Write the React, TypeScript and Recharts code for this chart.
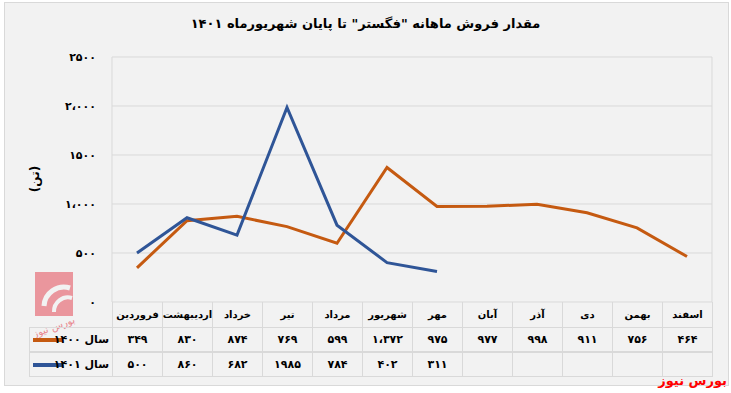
import React from 'react';
import { LineChart, Line, XAxis, YAxis, CartesianGrid } from 'recharts';

const months = ['فروردین', 'اردیبهشت', 'خرداد', 'تیر', 'مرداد', 'شهریور', 'مهر', 'آبان', 'آذر', 'دی', 'بهمن', 'اسفند'];
const sales1400 = [349, 830, 874, 769, 599, 1372, 975, 977, 998, 911, 756, 464];
const sales1401 = [500, 860, 682, 1985, 784, 402, 311];
const yTicks = [0, 500, 1000, 1500, 2000, 2500];
const yTickLabels = ['۰', '۵۰۰', '۱،۰۰۰', '۱۵۰۰', '۲،۰۰۰', '۲۵۰۰'];
const seriesNames = ['سال ۱۴۰۰', 'سال ۱۴۰۱'];
const title = 'مقدار فروش ماهانه "فگستر" تا پایان شهریورماه ۱۴۰۱';

const ORANGE = '#C55A11';
const BLUE = '#2F5597';
const GRID = '#d9d9d9';
const FONT = '"DejaVu Sans", sans-serif';

const faDigits = '۰۱۲۳۴۵۶۷۸۹';
// the source drops the separator on numbers containing a 5 (e.g. ۱۹۸۵, ۱۵۰۰)
const toFa = (n: number) => {
  const s = n.toString();
  const grouped = s.includes('5') ? s : s.replace(/\B(?=(\d{3})+(?!\d))/g, '،');
  return grouped.replace(/\d/g, (d) => faDigits[Number(d)]);
};

const data = months.map((m, i) => ({
  x: i + 0.5,
  month: m,
  s1400: sales1400[i],
  s1401: i < sales1401.length ? sales1401[i] : null,
}));

const cellStyle: React.CSSProperties = {
  position: 'absolute',
  height: 25,
  boxSizing: 'border-box',
  display: 'flex',
  alignItems: 'center',
  justifyContent: 'center',
  fontSize: 11,
  fontWeight: 'bold',
  color: '#000',
  direction: 'rtl',
  whiteSpace: 'nowrap',
};

export default function App() {
  const rows = [sales1400, sales1401];
  const colors = [ORANGE, BLUE];
  return (
    <div style={{ position: 'absolute', left: 0, top: 0, width: 731, height: 393, background: '#fff', fontFamily: FONT }}>
      <div
        style={{
          position: 'absolute',
          left: 4,
          top: 2,
          width: 725,
          height: 384,
          background: '#f2f2f2',
          border: `1px solid ${GRID}`,
          boxSizing: 'border-box',
        }}
      />
      <div
        dir="rtl"
        style={{
          position: 'absolute',
          left: 0,
          top: 16,
          width: 731,
          textAlign: 'center',
          fontSize: 13,
          fontWeight: 'bold',
        }}
      >
        {title}
      </div>
      <div
        dir="rtl"
        style={{
          position: 'absolute',
          left: 15,
          top: 172,
          width: 40,
          textAlign: 'center',
          fontSize: 12,
          fontWeight: 'bold',
          transform: 'rotate(-90deg)',
        }}
      >
        (تن)
      </div>
      {/* watermark */}
      <svg style={{ position: 'absolute', left: 30, top: 268 }} width={50} height={70}>
        <rect x={5} y={4} width={38} height={44} fill="#e9868e" opacity={0.85} />
        <path d="M40 20 A20 20 0 0 0 14 38" stroke="#f2f2f2" strokeWidth={5} fill="none" />
        <path d="M42 30 A14 14 0 0 0 24 44" stroke="#f2f2f2" strokeWidth={4} fill="none" />
        <text x={25} y={62} fontSize={10} fill="#e9868e" textAnchor="middle" fontFamily={FONT} transform="rotate(-20 25 62)">
          بورس نیوز
        </text>
      </svg>
      <div style={{ position: 'absolute', left: 0, top: 0 }}>
        <LineChart width={731} height={393} data={data} margin={{ top: 57, right: 19, left: 52, bottom: 91 }}>
          <CartesianGrid stroke={GRID} strokeWidth={1} />
          <XAxis
            dataKey="x"
            type="number"
            domain={[0, 12]}
            ticks={[0, 1, 2, 3, 4, 5, 6, 7, 8, 9, 10, 11, 12]}
            tick={false}
            tickLine={false}
            axisLine={false}
            height={0}
          />
          <YAxis
            type="number"
            domain={[0, 2500]}
            ticks={yTicks}
            width={60}
            axisLine={false}
            tickLine={false}
            tickMargin={10}
            tickFormatter={(v: number) => yTickLabels[yTicks.indexOf(v)]}
            tick={{ fontSize: 11, fontWeight: 'bold', fill: '#000', fontFamily: FONT }}
          />
          <Line type="linear" dataKey="s1400" stroke={ORANGE} strokeWidth={3} dot={false} isAnimationActive={false} />
          <Line type="linear" dataKey="s1401" stroke={BLUE} strokeWidth={3} dot={false} isAnimationActive={false} />
        </LineChart>
      </div>
      {/* data table */}
      {months.map((m, i) => (
        <div
          key={m}
          style={{
            ...cellStyle,
            left: 112 + i * 50,
            top: 302,
            width: 51,
            fontSize: 10,
            borderLeft: `1px solid ${GRID}`,
            borderRight: `1px solid ${GRID}`,
          }}
        >
          {m}
        </div>
      ))}
      {rows.map((row, r) => (
        <React.Fragment key={r}>
          <div
            style={{
              ...cellStyle,
              left: 29,
              top: 327 + r * 25,
              width: 84,
              border: `1px solid ${GRID}`,
              justifyContent: 'flex-start',
            }}
          >
            <div style={{ position: 'absolute', left: 3, top: 10, width: 30, height: 4, background: colors[r] }} />
            <div dir="rtl" style={{ position: 'absolute', right: 3, top: 5 }}>
              {seriesNames[r]}
            </div>
          </div>
          {months.map((m, i) => (
            <div
              key={m}
              style={{
                ...cellStyle,
                left: 112 + i * 50,
                top: 327 + r * 25,
                width: 51,
                border: `1px solid ${GRID}`,
              }}
            >
              {i < row.length ? toFa(row[i]) : ''}
            </div>
          ))}
        </React.Fragment>
      ))}
      <div
        dir="rtl"
        style={{
          position: 'absolute',
          right: 4,
          top: 373,
          fontSize: 13,
          fontWeight: 'bold',
          color: '#ff0000',
        }}
      >
        بورس نیوز
      </div>
    </div>
  );
}
